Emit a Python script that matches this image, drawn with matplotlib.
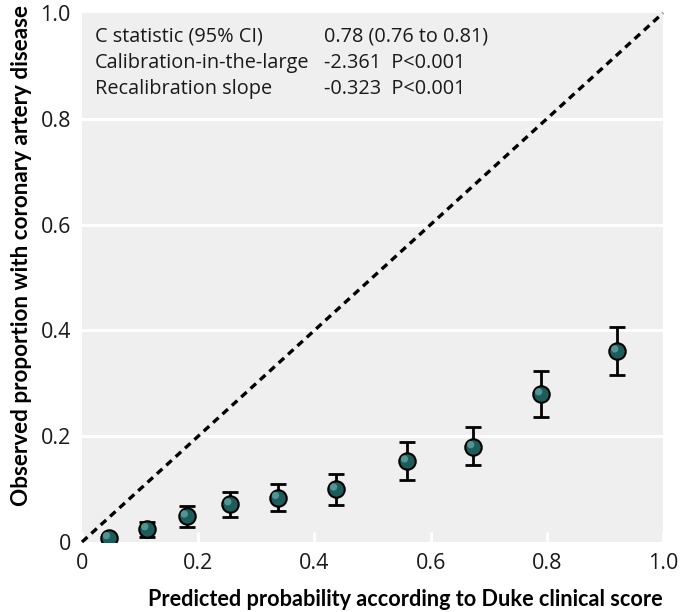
import matplotlib
matplotlib.use("Agg")
import matplotlib.pyplot as plt
import numpy as np

# calibration of the Duke clinical score: grouped predicted vs observed
predicted = [0.046, 0.112, 0.180, 0.255, 0.337, 0.437, 0.559, 0.673, 0.790, 0.921]
observed = [0.008, 0.025, 0.049, 0.072, 0.084, 0.100, 0.153, 0.180, 0.280, 0.361]
ci_low = [0.003, 0.010, 0.028, 0.047, 0.059, 0.070, 0.117, 0.146, 0.236, 0.316]
ci_high = [0.014, 0.038, 0.068, 0.095, 0.110, 0.128, 0.189, 0.217, 0.323, 0.406]

xticks = [0, 0.2, 0.4, 0.6, 0.8, 1.0]
xticklabels = ["0", "0.2", "0.4", "0.6", "0.8", "1.0"]
yticks = [0, 0.2, 0.4, 0.6, 0.8, 1.0]
yticklabels = ["0", "0.2", "0.4", "0.6", "0.8", "1.0"]

stat_names = ["C statistic (95% CI)", "Calibration-in-the-large", "Recalibration slope"]
stat_values = ["0.78 (0.76 to 0.81)", "-2.361  P<0.001", "-0.323  P<0.001"]

plt.rcParams['font.family'] = ['Open Sans', 'DejaVu Sans']

fig = plt.figure(figsize=(6.81, 6.12), dpi=100)
ax = fig.add_axes([82 / 681, 70 / 612, 581 / 681, 529 / 612])
ax.set_facecolor('#efefef')
for s in ax.spines.values():
    s.set_visible(False)

# white horizontal grid lines
for yv in yticks[1:-1]:
    ax.axhline(yv, color='white', lw=2.2, zorder=1)

# line of perfect calibration
ax.plot([0, 1], [0, 1], color='black', lw=2.4, ls=(0, (2.2, 1.6)), zorder=2, clip_on=False)

obs = np.array(observed)
yerr = [obs - np.array(ci_low), np.array(ci_high) - obs]
ax.errorbar(predicted, observed, yerr=yerr, fmt='none', ecolor='black',
            elinewidth=2, capsize=6, capthick=2, zorder=3)
ax.scatter(predicted, observed, s=140, color='#1c5c5b', edgecolor='black',
           linewidth=1.5, zorder=4)
# small highlight to give the markers a shaded look
ax.scatter(np.array(predicted) - 0.004, obs + 0.004, s=28, color='#5fa3a0',
           edgecolor='none', alpha=0.8, zorder=5)

ax.set_xlim(0, 1)
ax.set_ylim(0, 1)
ax.set_xticks(xticks)
ax.set_xticklabels(xticklabels)
ax.set_yticks(yticks)
ax.set_yticklabels(yticklabels)
ax.tick_params(axis='x', direction='in', color='white', length=7, width=2.2,
               pad=8, labelsize=15.5, labelcolor='#1a1a1a')
ax.tick_params(axis='y', length=0, pad=8, labelsize=15.5, labelcolor='#1a1a1a')

for i, (name, val) in enumerate(zip(stat_names, stat_values)):
    yy = 0.955 - i * 0.049
    ax.text(0.022, yy, name, transform=ax.transAxes, fontsize=14.3,
            va='center', ha='left', color='#1a1a1a')
    ax.text(0.417, yy, val, transform=ax.transAxes, fontsize=14.3,
            va='center', ha='left', color='#1a1a1a')

fig.text(663 / 681, 1 - 600 / 612, "Predicted probability according to Duke clinical score",
         ha='right', va='center', fontsize=15.6, fontweight='bold', family='Lato')
fig.text(22 / 681, 1 - 255 / 612, "Observed proportion with coronary artery disease",
         ha='center', va='center', rotation=90, fontsize=16.2, fontweight='bold', family='Lato')

fig.savefig("out.png", dpi=100)
